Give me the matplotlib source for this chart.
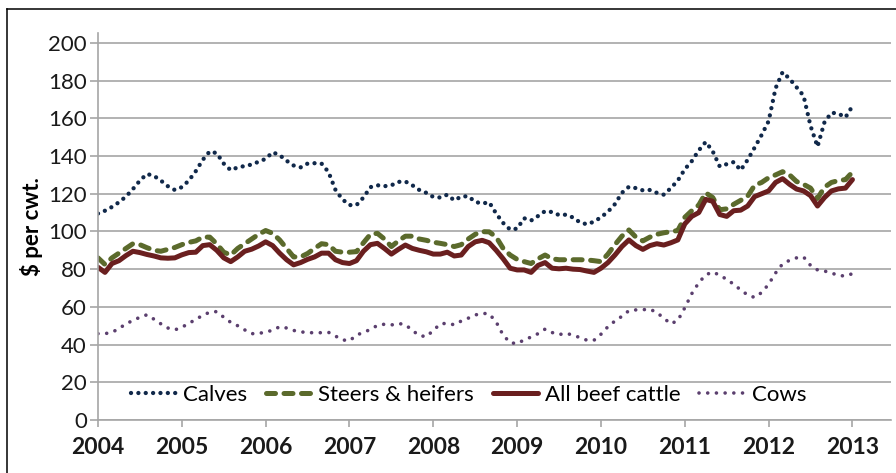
import numpy as np
import matplotlib
matplotlib.use("Agg")
import matplotlib.pyplot as plt
from matplotlib.lines import Line2D

plt.rcParams["font.family"] = ["Lato", "DejaVu Sans"]

# 月度价格 ($/cwt), 2004-01 .. 2013-01
calves = [
    109.5, 111, 113, 115.5, 118.5, 122.5, 127, 130.5, 129.5, 127, 124, 122,
    123.5, 127, 132, 138, 142.5, 141.5, 136, 132.5, 134, 134.7, 135.5, 137,
    138.5, 142, 140.5, 137.5, 135, 134, 136, 136.2, 136, 131.5, 122, 117,
    114, 114, 118, 123.5, 124.5, 124, 124.5, 126.3, 126.5, 124.5, 122, 120.5,
    118.3, 118, 119.5, 116.5, 118.5, 118.7, 115.7, 114.8, 115.5, 109.5, 104.5, 101,
    101.5, 107, 105.8, 108.2, 110.8, 110.3, 108.7, 108.9, 107.4, 104.8, 103.8, 105.2,
    107.5, 110.5, 114.5, 120.5, 123.7, 123, 121.8, 122, 120.5, 119.5, 123, 127,
    133, 137.3, 143, 147.5, 142.5, 134.5, 135.7, 136.8, 132.5, 138, 144.5, 151.2,
    158.5, 176, 184.5, 181, 176.5, 172, 156, 145, 158, 163, 162.5, 160.5,
    166.5,
]
steers_heifers = [
    86, 82.5, 86, 88.5, 91, 93.5, 93, 91.4, 90, 89.5, 90.5, 91.5,
    93, 94.2, 95, 97, 97, 93.4, 89, 87.5, 91, 93.5, 96, 98.5,
    100.5, 99, 95.5, 91, 86.5, 86.5, 88.3, 91, 93.5, 93, 89.5, 89,
    89, 89.3, 94, 98.5, 99, 96, 92, 95, 97.5, 97.5, 96, 95.3,
    94.3, 93.7, 93, 92, 93, 96, 98.5, 99.9, 99.8, 97, 91, 87.5,
    85.2, 84, 83, 85.5, 87.5, 85.5, 85, 85, 85, 85, 84.9, 84.5,
    84, 88, 93, 97.5, 100.8, 97, 95, 97, 98.5, 99.3, 99.9, 100.5,
    107.5, 111, 114, 120.5, 118, 111.5, 112, 114.4, 116.5, 118.7, 124.5, 126,
    128.5, 130, 131.7, 130, 126.5, 125, 123, 117.5, 123.5, 126, 127, 127.5,
    131.5,
]
all_beef = [
    81, 78.3, 83, 84.5, 87.2, 89.5, 88.8, 87.8, 87, 86, 85.8, 86,
    87.6, 88.8, 89, 92.5, 93, 90, 86, 84, 86.5, 89.5, 90.6, 92.3,
    94.5, 92.5, 88.5, 85, 82.3, 83.5, 85.2, 86.5, 88.5, 88.5, 85, 83.5,
    83, 84.5, 89.5, 93, 93.7, 91, 88, 90.5, 92.8, 91, 90, 89.2,
    88, 88, 89, 87, 87.5, 92, 94.5, 95.3, 94, 90, 85.5, 80.5,
    79.6, 79.6, 78.3, 82, 83.5, 80.5, 80.2, 80.5, 80, 79.8, 79, 78.3,
    80.5, 83.5, 87.5, 92, 95.5, 92.5, 90.5, 92.5, 93.5, 92.8, 94, 95.5,
    104, 108, 110, 117, 116, 109, 108, 111, 111.3, 113.5, 118.5, 120,
    121.5, 126, 128, 125, 122.5, 121.5, 119, 113.5, 118, 121.5, 122.6, 123,
    127.5,
]
cows = [
    45.8, 45.8, 46.5, 48.5, 51, 52.8, 54.5, 55.8, 53.5, 51, 48.8, 47.8,
    49.2, 51.2, 53.4, 55.5, 57.2, 57.5, 54.5, 51.8, 50, 47.8, 45.8, 45.8,
    46.8, 47.5, 49.5, 48.8, 47.5, 46.8, 46.3, 46.3, 46.3, 46.5, 44.5, 42.5,
    42, 45, 46.5, 48, 50.2, 50.8, 50.4, 51.2, 50.6, 47.5, 44.8, 44.2,
    47.5, 51, 51.3, 50.5, 52.5, 54, 55.7, 56.6, 56.3, 52, 45, 41,
    40.5, 42.5, 44, 45.8, 48.2, 46.4, 45.3, 46, 45, 43.7, 42.3, 42.3,
    45.5, 49.5, 52.5, 55, 58, 58.4, 58.5, 58.8, 57, 54, 51, 52.8,
    59.5, 67, 72.8, 77, 78.5, 76.8, 74.6, 72, 69, 66.3, 65, 67.6,
    72, 78, 82.8, 84.7, 86, 86.5, 82, 79.6, 79, 78, 76.6, 76.4,
    77.6,
]
years = list(range(2004, 2014))
yticks = list(range(0, 201, 20))

t = 2004 + np.arange(len(calves)) / 12.0

W, H = 896, 473
fig = plt.figure(figsize=(W / 100, H / 100), dpi=100)
ax = fig.add_axes([98 / W, 1 - 420 / H, 793 / W, (420 - 33.5) / H])

grid_c = "#a6a6a6"
ax.set_axisbelow(True)
ax.yaxis.grid(True, color=grid_c, lw=1.2)

ax.plot(t, calves, color="#10284a", lw=3.1, linestyle=(0, (0.01, 1.7)),
        dash_capstyle="round", label="Calves")
ax.plot(t, steers_heifers, color="#5b6a2c", lw=3.6, linestyle=(0, (1.8, 1.7)),
        dash_capstyle="round", label="Steers & heifers")
ax.plot(t, all_beef, color="#6a1f1f", lw=3.6, solid_capstyle="round",
        label="All beef cattle")
ax.plot(t, cows, color="#5b3f6e", lw=2.6, linestyle=(0, (0.01, 2.4)),
        dash_capstyle="round", label="Cows")

ax.set_xlim(2004, 2013.46)
ax.set_ylim(0, 205)
ax.set_xticks(years)
ax.set_xticklabels([str(y) for y in years], fontweight="bold", fontsize=16.5,
                   color="#1a1a1a")
ax.set_yticks(yticks)
ax.set_yticklabels([str(v) for v in yticks], fontsize=16, color="#1a1a1a")
ax.tick_params(axis="x", direction="out", length=5, width=1.2, color=grid_c, pad=7)
ax.tick_params(axis="y", direction="out", length=6, width=1.2, color=grid_c, pad=2)
for s in ["top", "right"]:
    ax.spines[s].set_visible(False)
for s in ["left", "bottom"]:
    ax.spines[s].set_color(grid_c)
    ax.spines[s].set_linewidth(1.2)

ax.set_ylabel("$ per cwt.", fontweight="bold", fontsize=16, labelpad=4)

ax.legend(loc="center", bbox_to_anchor=(0.467, 0.065), ncol=4, frameon=False,
          fontsize=16, handlelength=2.05, handletextpad=0.3, columnspacing=0.85)

# 外框
fig.add_artist(Line2D([7 / W, 1], [1 - 9 / H, 1 - 9 / H], color="black", lw=1.1))
fig.add_artist(Line2D([7 / W, 7 / W], [0, 1 - 9 / H], color="black", lw=1.1))

fig.savefig("out.png", dpi=100)
